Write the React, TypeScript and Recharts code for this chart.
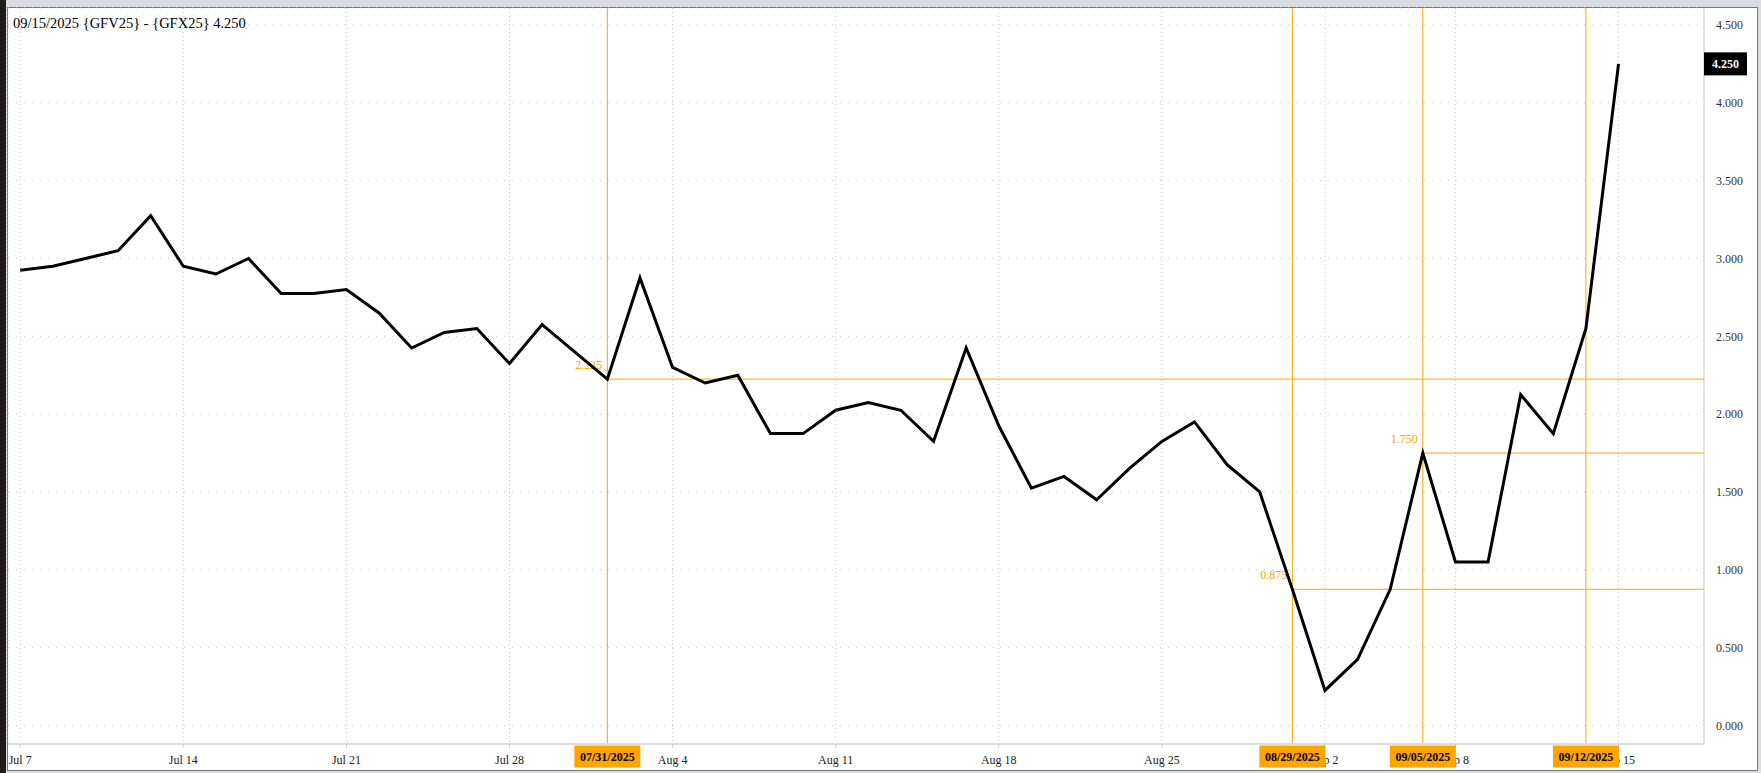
import React from "react";
import { LineChart, Line, XAxis, YAxis, CartesianGrid, ReferenceLine } from "recharts";

// ---- data ----
const values: number[] = [
  2.925, 2.95, 3.0, 3.05, 3.275, 2.95, 2.9, 3.0, 2.775, 2.775,
  2.8, 2.65, 2.425, 2.525, 2.55, 2.325, 2.575, 2.4, 2.225, 2.875,
  2.3, 2.2, 2.25, 1.875, 1.875, 2.025, 2.075, 2.025, 1.825, 2.425,
  1.925, 1.525, 1.6, 1.45, 1.65, 1.825, 1.95, 1.675, 1.5, 0.875,
  0.225, 0.425, 0.875, 1.75, 1.05, 1.05, 2.125, 1.875, 2.55, 4.25,
];
const tickIdx: number[] = [0, 5, 10, 15, 20, 25, 30, 35, 40, 44, 49];
const tickNames: string[] = ["Jul 7", "Jul 14", "Jul 21", "Jul 28", "Aug 4", "Aug 11", "Aug 18", "Aug 25", "Sep 2", "Sep 8", "Sep 15"];
const yTicks: number[] = [0, 0.5, 1, 1.5, 2, 2.5, 3, 3.5, 4, 4.5];
const markerIdx: number[] = [18, 39, 43, 48];
const markerDates: string[] = ["07/31/2025", "08/29/2025", "09/05/2025", "09/12/2025"];
const levelIdx: number[] = [18, 39, 43];
const levelValues: number[] = [2.225, 0.875, 1.75];
const lastValue = 4.25;
const title = "09/15/2025 {GFV25} - {GFX25} 4.250";

const data = values.map((v, i) => ({ i, v }));

const FONT = "'Liberation Serif', 'Times New Roman', serif";
const ORANGE = "#FFA500";
const X_DOMAIN: [number, number] = [-0.374, 51.62];
const Y_DOMAIN: [number, number] = [-0.119, 4.609];

const dateBox = (text: string) => (props: any) => {
  const vb = props.viewBox || {};
  const cx = vb.x;
  const y = vb.y + vb.height + 1.5;
  return (
    <g>
      <rect x={cx - 33} y={y} width={66} height={22} fill={ORANGE} />
      <text x={cx} y={y + 15.5} textAnchor="middle" fontFamily={FONT} fontSize={12} fontWeight="bold" fill="#000">
        {text}
      </text>
    </g>
  );
};

const levelLabel = (text: string) => (props: any) => {
  const vb = props.viewBox || {};
  return (
    <text x={vb.x - 5} y={vb.y - 10} textAnchor="end" fontFamily={FONT} fontSize={12} fill={ORANGE}>
      {text}
    </text>
  );
};

const lastBox = (props: any) => {
  const vb = props.viewBox || {};
  const x = vb.x + vb.width;
  return (
    <g>
      <rect x={x} y={vb.y - 11.5} width={43} height={23} fill="#000" />
      <text x={x + 21.5} y={vb.y + 4} textAnchor="middle" fontFamily={FONT} fontSize={12} fontWeight="bold" fill="#fff">
        {lastValue.toFixed(3)}
      </text>
    </g>
  );
};

export default function App() {
  return (
    <div style={{ position: "absolute", left: 0, top: 0, width: 1761, height: 773, background: "#d9dde1", overflow: "hidden" }}>
      <div style={{ position: "absolute", left: 0, top: 0, width: 6, height: 773, background: "#1f1c1a" }} />
      <div
        style={{
          position: "absolute", left: 7, top: 7, width: 1751, height: 764,
          background: "#fff", border: "1px solid #777", boxSizing: "border-box",
        }}
      />
      <div style={{ position: "absolute", left: 0, top: 0 }}>
        <LineChart width={1761} height={773} data={data} margin={{ top: 8, left: 8, right: 4, bottom: 4 }}>
          <CartesianGrid horizontal={true} vertical={false} stroke="#c8c8c8" strokeDasharray="1 7" />
          <CartesianGrid horizontal={false} vertical={true} stroke="#c8c8c8" strokeDasharray="1 3" />
          <XAxis
            dataKey="i"
            type="number"
            domain={X_DOMAIN}
            ticks={tickIdx}
            allowDataOverflow
            tickFormatter={(v: number) => tickNames[tickIdx.indexOf(v)] ?? ""}
            height={25}
            tickSize={4}
            tickMargin={7}
            axisLine={{ stroke: "#dedede", strokeWidth: 2 }}
            tickLine={{ stroke: "#cfcfcf" }}
            tick={{ fontFamily: FONT, fontSize: 12, fill: "#222" }}
          />
          <YAxis
            orientation="right"
            type="number"
            domain={Y_DOMAIN}
            ticks={yTicks}
            allowDataOverflow
            width={53}
            tickFormatter={(v: number) => v.toFixed(3)}
            tickLine={false}
            tickSize={0}
            tickMargin={12}
            axisLine={{ stroke: "#c8c8c8" }}
            tick={{ fontFamily: FONT, fontSize: 12, fill: "#333" }}
          />
          {levelIdx.map((ix, k) => (
            <ReferenceLine
              key={"h" + k}
              segment={[{ x: ix, y: levelValues[k] }, { x: 60, y: levelValues[k] }]}
              ifOverflow="hidden"
              stroke={ORANGE}
              strokeWidth={1}
              label={levelLabel(levelValues[k].toFixed(3))}
            />
          ))}
          {markerIdx.map((ix, k) => (
            <ReferenceLine key={"v" + k} x={ix} stroke={ORANGE} strokeWidth={1} />
          ))}
          <Line type="linear" dataKey="v" stroke="#000" strokeWidth={3} dot={false} isAnimationActive={false} />
        </LineChart>
      </div>
      <div style={{ position: "absolute", left: 0, top: 0 }}>
        <LineChart width={1761} height={773} data={data} margin={{ top: 8, left: 8, right: 57, bottom: 29 }}>
          <XAxis dataKey="i" type="number" domain={X_DOMAIN} allowDataOverflow hide />
          <YAxis type="number" domain={Y_DOMAIN} allowDataOverflow hide />
          {markerIdx.map((ix, k) => (
            <ReferenceLine key={"b" + k} x={ix} stroke="none" label={dateBox(markerDates[k])} />
          ))}
          <ReferenceLine y={lastValue} stroke="none" label={lastBox} />
        </LineChart>
      </div>
      <div
        style={{
          position: "absolute", left: 13, top: 15, fontFamily: FONT, fontSize: 14.5,
          lineHeight: "17px", color: "#000", whiteSpace: "nowrap",
        }}
      >
        {title}
      </div>
    </div>
  );
}
